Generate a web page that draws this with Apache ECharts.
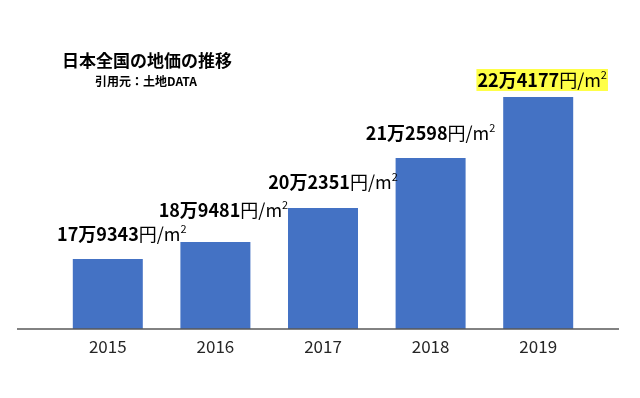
<!DOCTYPE html>
<html>
<head>
<meta charset="utf-8">
<script src="https://cdn.jsdelivr.net/npm/echarts@6/dist/echarts.min.js"></script>
<style>html,body{margin:0;padding:0;background:#fff}#c{width:640px;height:398px}</style>
</head>
<body>
<div id="c"></div>
<script>
// Data
var years = ['2015', '2016', '2017', '2018', '2019'];
// Land price per m2 (yen), as written on the labels
var prices = [179343, 189481, 202351, 212598, 224177];
// Bar heights as drawn in the (not-to-scale) source chart, arbitrary units
var barHeights = [70, 87, 121, 171, 232];
var titleText = '日本全国の地価の推移';
var sourceText = '引用元：土地DATA';

function priceLabel(v) {
  var man = Math.floor(v / 10000);
  var rest = v % 10000;
  return man + '万' + rest;
}

var labelOffsets = [[14, 0], [8, -7], [10, -1], [0, 0], [4, 8]];

var chart = echarts.init(document.getElementById('c'));
var FONT = '"Noto Sans CJK JP", "Noto Sans", sans-serif';

var seriesData = barHeights.map(function (h, i) {
  var item = {
    value: h,
    label: {
      offset: labelOffsets[i]
    }
  };
  if (i === years.length - 1) {
    item.label.backgroundColor = '#ffff47';
    item.label.padding = [0, 1, 0, 1];
  }
  return item;
});

chart.setOption({
  animation: false,
  backgroundColor: '#ffffff',
  title: [
    { text: titleText, left: 62, top: 52, padding: 0,
      textStyle: { fontFamily: FONT, fontSize: 17, fontWeight: 'bold', color: '#000' } },
    { text: sourceText, left: 95, top: 75, padding: 0,
      textStyle: { fontFamily: FONT, fontSize: 12, fontWeight: 'bold', color: '#000' } }
  ],
  grid: { left: 54, right: 48, top: 29, bottom: 69 },
  xAxis: {
    type: 'category',
    data: years,
    axisLine: { show: false },
    axisTick: { show: false },
    axisLabel: { fontFamily: FONT, fontSize: 17, color: '#262626', margin: 9 }
  },
  yAxis: {
    type: 'value', min: 0, max: 300,
    show: false,
    splitLine: { show: false }
  },
  graphic: [{
    type: 'line',
    shape: { x1: 17, y1: 329, x2: 619, y2: 329 },
    style: { stroke: '#595959', lineWidth: 1.5 },
    z: 10
  }],
  series: [{
    type: 'bar',
    barWidth: 70,
    data: seriesData,
    itemStyle: { color: '#4472c4' },
    label: {
      show: true,
      position: 'top',
      distance: 14,
      formatter: function (p) {
        return '{b|' + priceLabel(prices[p.dataIndex]) + '}{n|円/m}{s|2}';
      },
      rich: {
        b: { fontFamily: FONT, fontSize: 18, fontWeight: 'bold', color: '#000', lineHeight: 22 },
        n: { fontFamily: FONT, fontSize: 18, fontWeight: 'normal', color: '#000', lineHeight: 22 },
        s: { fontFamily: FONT, fontSize: 11, color: '#000', lineHeight: 12, verticalAlign: 'top' }
      }
    }
  }]
});
</script>
</body>
</html>
